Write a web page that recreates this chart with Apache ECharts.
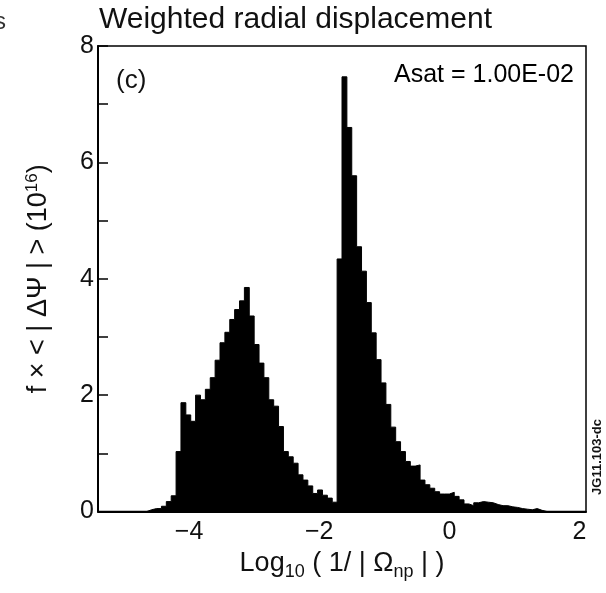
<!DOCTYPE html>
<html>
<head>
<meta charset="utf-8">
<script src="https://cdn.jsdelivr.net/npm/echarts@6/dist/echarts.min.js"></script>
<style>html,body{margin:0;padding:0;background:#fff;}#c{width:606px;height:593px;}</style>
</head>
<body>
<div id="c"></div>
<script>
// Histogram of log10(1/|Omega_np|): 100 bins of width 0.075 from -5.4 to 2.1
const binStart = -5.4;
const binWidth = 0.075;
const binValues = [
  0, 0, 0, 0, 0, 0, 0, 0, 0, 0,
  0.03, 0.05, 0.05, 0.09, 0.17, 0.27, 1.03, 1.87, 1.66, 1.55,
  2.0, 1.92, 2.1, 2.3, 2.6, 2.9, 3.08, 3.3, 3.47, 3.62,
  3.85, 3.36, 2.87, 2.55, 2.3, 1.92, 1.81, 1.46, 1.03, 0.94,
  0.83, 0.63, 0.54, 0.44, 0.31, 0.37, 0.28, 0.23, 0.16, 4.34,
  7.47, 6.6, 5.77, 4.55, 4.13, 3.59, 3.07, 2.61, 2.21, 1.84,
  1.45, 1.2, 1.03, 0.86, 0.78, 0.8, 0.54, 0.46, 0.4, 0.34,
  0.3, 0.3, 0.33, 0.26, 0.2, 0.13, 0.1, 0.15, 0.17, 0.16,
  0.15, 0.12, 0.1, 0.1, 0.08, 0.07, 0.05, 0.04, 0.03, 0.05,
  0.02, 0, 0, 0, 0, 0, 0, 0, 0, 0
];
const xTickValues = [-4, -2, 0, 2];
const yTickLabels = [0, 2, 4, 6, 8];

// step-histogram points: one at each bin's left edge, plus the closing right edge
const histPoints = binValues.map((v, i) => [+(binStart + binWidth * i).toFixed(4), v]);
histPoints.push([+(binStart + binWidth * binValues.length).toFixed(4), 0]);

const FONT = 'Liberation Sans, Arial, Helvetica, sans-serif';
const chart = echarts.init(document.getElementById('c'), null, {renderer: 'canvas'});
chart.setOption({
  animation: false,
  backgroundColor: '#fff',
  title: {
    text: 'Weighted radial displacement',
    left: 99, top: 5, padding: 0,
    textStyle: {fontFamily: FONT, fontSize: 30, fontWeight: 'normal', color: '#111'}
  },
  grid: {
    left: 98, right: 20, top: 46, bottom: 81.5,
    show: true, borderColor: '#000', borderWidth: 1.5, backgroundColor: 'transparent'
  },
  xAxis: {
    type: 'value', min: -5.4, max: 2.1,
    axisLine: {show: true, onZero: false, lineStyle: {color: '#000', width: 2}},
    axisTick: {show: false},
    splitLine: {show: false},
    axisLabel: {
      customValues: xTickValues, margin: 8,
      fontFamily: FONT, fontSize: 25, color: '#111',
      formatter: v => (v < 0 ? '\u2212' + Math.abs(v) : String(v))
    },
    name: '{b|Log}{s|10}{b| ( 1/ | \u03a9}{s|np}{b| | )}',
    nameLocation: 'middle', nameGap: 34,
    nameTextStyle: {
      color: '#111', fontFamily: FONT,
      rich: {
        b: {fontSize: 27, fontFamily: FONT, color: '#111', lineHeight: 36, verticalAlign: 'middle'},
        s: {fontSize: 18, fontFamily: FONT, color: '#111', lineHeight: 36, verticalAlign: 'bottom'}
      }
    }
  },
  yAxis: {
    type: 'value', min: 0, max: 8, interval: 1,
    axisLine: {show: true, onZero: false, lineStyle: {color: '#000', width: 2}},
    axisTick: {show: true, inside: true, length: 10, lineStyle: {color: '#000', width: 1.5}},
    splitLine: {show: false},
    axisLabel: {
      margin: 4, fontFamily: FONT, fontSize: 25, color: '#111',
      formatter: v => (yTickLabels.indexOf(v) >= 0 ? String(v) : '')
    },
    name: 'f \u00d7 < | \u0394\u03a8 | > (10{sup|16})',
    nameLocation: 'middle', nameRotate: 90, nameGap: 44,
    nameTextStyle: {
      color: '#111', fontFamily: FONT, fontSize: 27,
      rich: {
        sup: {fontSize: 17, fontFamily: FONT, color: '#111', verticalAlign: 'top', lineHeight: 30}
      }
    }
  },
  series: [{
    type: 'line', data: histPoints, step: 'end',
    showSymbol: false, symbol: 'none',
    lineStyle: {color: '#000', width: 1},
    areaStyle: {color: '#000', opacity: 1},
    silent: true, z: 1
  }],
  graphic: [
    {type: 'text', left: 116, top: 68, style: {text: '(c)', font: '26px ' + FONT, fill: '#111'}},
    {type: 'text', right: 32, top: 63, style: {text: 'Asat = 1.00E-02', font: '25px ' + FONT, fill: '#000'}},
    {type: 'text', x: 597, y: 457, rotation: Math.PI / 2,
     style: {text: 'JG11.103-dc', font: 'bold 13px ' + FONT, fill: '#111', align: 'center', verticalAlign: 'middle'}},
    {type: 'text', x: -6, y: 10, style: {text: 's', font: '24px ' + FONT, fill: '#333'}}
  ]
});
</script>
</body>
</html>
